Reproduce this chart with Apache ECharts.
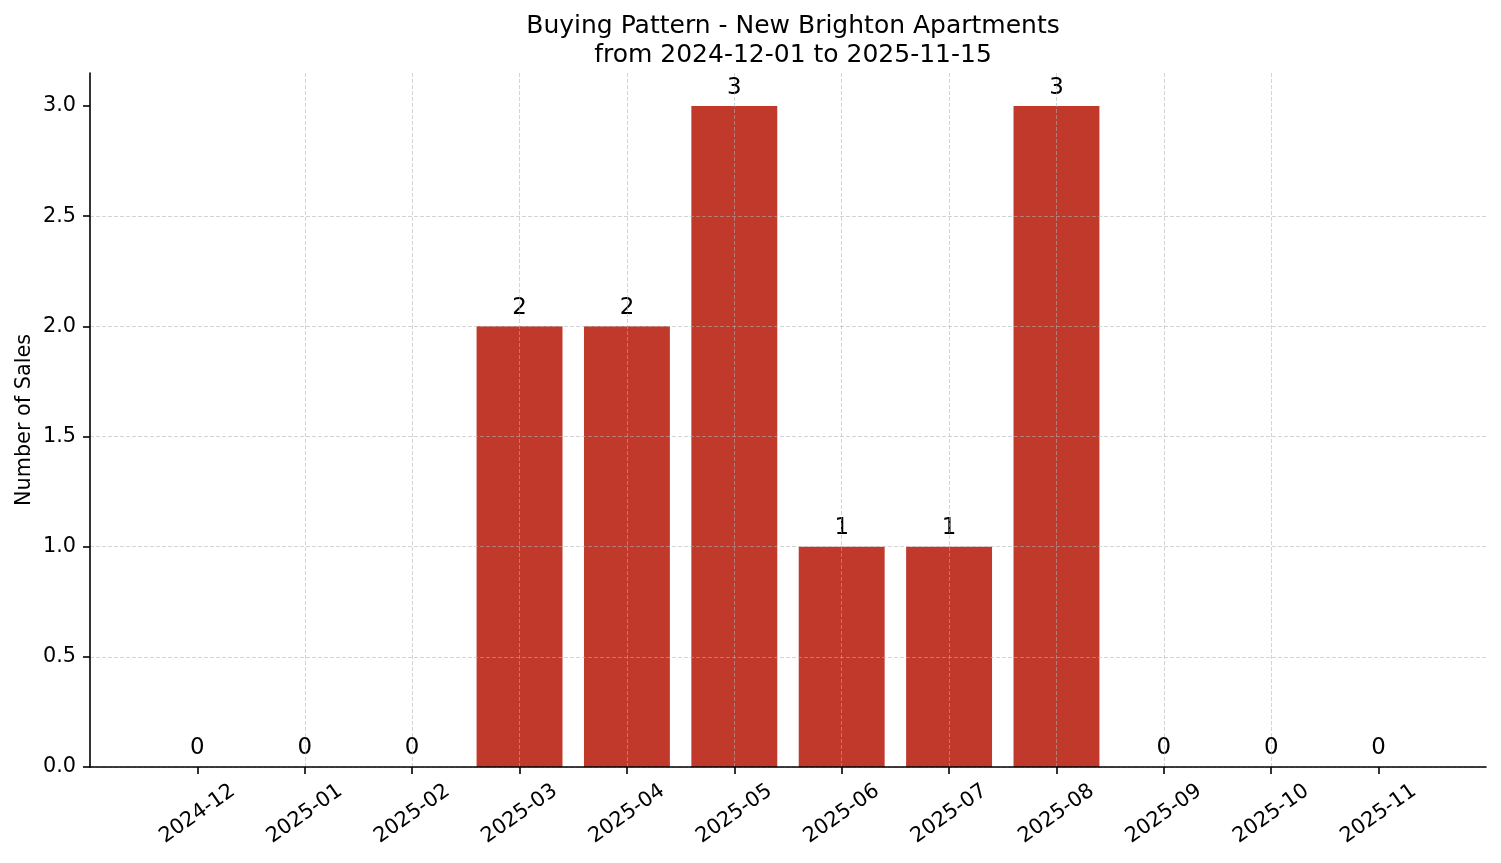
<!DOCTYPE html>
<html>
<head>
<meta charset="utf-8">
<script src="https://cdn.jsdelivr.net/npm/echarts@6/dist/echarts.min.js"></script>
<style>html,body{margin:0;padding:0;background:#fff}#c{width:1501px;height:863px}</style>
</head>
<body>
<div id="c"></div>
<script>
const categories = ['2024-12','2025-01','2025-02','2025-03','2025-04','2025-05','2025-06','2025-07','2025-08','2025-09','2025-10','2025-11'];
const sales = [0, 0, 0, 2, 2, 3, 1, 1, 3, 0, 0, 0];
const yTicks = [0, 0.5, 1.0, 1.5, 2.0, 2.5, 3.0];
const titleText = 'Buying Pattern - New Brighton Apartments\nfrom 2024-12-01 to 2025-11-15';

const W = 1501, H = 863;
const G = {left: 90, right: 15, top: 73, bottom: 96};
const gridW = W - G.left - G.right;
const xMin = -1, xMax = categories.length;
const barW = 0.8 * gridW / (xMax - xMin);
const FONT = 'DejaVu Sans';
const catIdx = categories.map((c, i) => i);
const gridLine = {color: 'rgba(176,176,176,0.55)', width: 1, type: [4, 2]};

const chart = echarts.init(document.getElementById('c'), null, {renderer: 'canvas'});
chart.setOption({
  animation: false,
  backgroundColor: '#fff',
  title: {
    text: titleText,
    left: G.left + gridW / 2,
    textAlign: 'center',
    top: 7,
    textStyle: {fontFamily: FONT, fontSize: 25, fontWeight: 'normal', color: '#000', lineHeight: 29}
  },
  grid: {left: G.left, right: G.right, top: G.top, bottom: G.bottom, containLabel: false, outerBoundsMode: 'none'},
  xAxis: {
    type: 'value', min: xMin, max: xMax, interval: 1, z: 5,
    axisLine: {show: true, onZero: false, lineStyle: {color: '#000', width: 1.6}},
    axisTick: {show: true, length: 7, lineStyle: {color: '#000', width: 1.6}, customValues: catIdx},
    axisLabel: {
      customValues: catIdx,
      formatter: v => categories[Math.round(v)] || '',
      rotate: 35, align: 'center', verticalAlign: 'middle', margin: 47,
      fontFamily: FONT, fontSize: 20.8, color: '#000'
    },
    splitLine: {show: true, showMinLine: false, showMaxLine: false, lineStyle: gridLine}
  },
  yAxis: {
    type: 'value', min: 0, max: 3.15, interval: 0.5, z: 5,
    name: 'Number of Sales', nameLocation: 'middle', nameGap: 55, nameRotate: 90,
    nameMoveOverlap: false,
    nameTextStyle: {fontFamily: FONT, fontSize: 20.8, color: '#000'},
    axisLine: {show: true, onZero: false, lineStyle: {color: '#000', width: 1.6}},
    axisTick: {show: true, length: 7, lineStyle: {color: '#000', width: 1.6}, customValues: yTicks},
    axisLabel: {
      customValues: yTicks,
      formatter: v => Number(v).toFixed(1), margin: 14,
      fontFamily: FONT, fontSize: 20.8, color: '#000'
    },
    splitLine: {show: true, showMaxLine: false, lineStyle: gridLine}
  },
  series: [{
    type: 'bar',
    data: sales.map((v, i) => [i, v]),
    barWidth: barW,
    itemStyle: {color: '#c0392b'},
    z: 2,
    label: {show: true, position: 'top', distance: 7, formatter: p => String(p.value[1]),
      fontFamily: FONT, fontSize: 22.9, color: '#000'}
  }]
});
</script>
</body>
</html>
